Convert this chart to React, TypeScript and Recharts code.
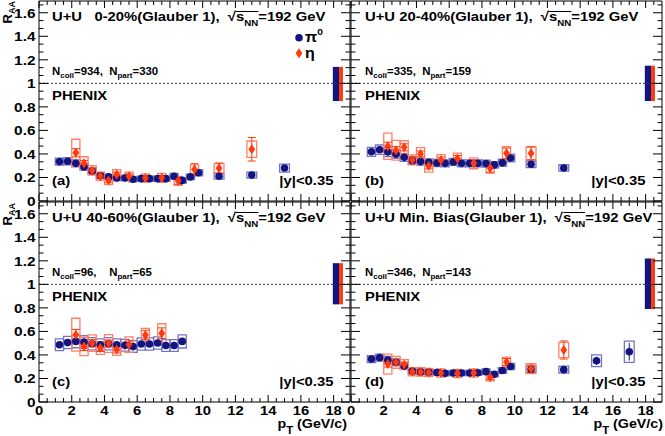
import React from "react";
import {
  ScatterChart,
  Scatter,
  XAxis,
  YAxis,
  ErrorBar,
  ReferenceArea,
  ReferenceLine,
} from "recharts";

const FONT = '"Liberation Sans", Arial, Helvetica, sans-serif';
const SX = 1.14; // the reference is stretched horizontally
const BLUE = "#14147f";
const RED = "#ff3a0e";
const BLUE_BOX = "#7474c6";
const RED_BOX = "#ff8266";

const X_MAX = 19;
const Y_MAX = 1.7;
const X_LABELS = [0, 2, 4, 6, 8, 10, 12, 14, 16, 18];
const Y_LABELS = ["0", "0.2", "0.4", "0.6", "0.8", "1", "1.2", "1.4", "1.6"];
const X_TICKS = Array.from({ length: 38 }, (_, i) => i * 0.5);
const Y_TICKS = Array.from({ length: 26 }, (_, i) => (i * 0.2) / 3);

// pT bins
const PI0_PT = [1.25, 1.75, 2.25, 2.75, 3.25, 3.75, 4.25, 4.75, 5.25, 5.75, 6.25, 6.75, 7.25, 7.75, 8.25, 8.75, 9.25, 9.75, 11, 13, 15, 17];
const ETA_PT = [2.25, 2.75, 3.25, 3.75, 4.25, 4.75, 5.5, 6.5, 7.5, 8.5, 9.5, 11, 13];

// (a) 0-20%
const A_PI0_R = [0.335, 0.338, 0.32, 0.29, 0.255, 0.215, 0.205, 0.195, 0.195, 0.185, 0.19, 0.19, 0.19, 0.19, 0.21, 0.175, 0.205, 0.24, 0.21, 0.22, 0.28];
const A_PI0_STAT = [0.006, 0.006, 0.006, 0.006, 0.005, 0.005, 0.005, 0.005, 0.005, 0.005, 0.005, 0.006, 0.006, 0.007, 0.008, 0.009, 0.01, 0.012, 0.012, 0.015, 0.025];
const A_PI0_SYS = [0.03, 0.03, 0.03, 0.028, 0.025, 0.022, 0.022, 0.022, 0.022, 0.022, 0.022, 0.022, 0.022, 0.022, 0.024, 0.022, 0.024, 0.027, 0.024, 0.026, 0.034];
const A_ETA_R = [0.41, 0.32, 0.26, 0.21, 0.175, 0.225, 0.21, 0.195, 0.197, 0.172, 0.267, 0.278, 0.44];
const A_ETA_STAT = [0.035, 0.025, 0.02, 0.02, 0.02, 0.02, 0.02, 0.02, 0.02, 0.03, 0.05, 0.045, 0.1];
const A_ETA_SYS = [0.115, 0.056, 0.04, 0.035, 0.035, 0.042, 0.035, 0.035, 0.038, 0.038, 0.04, 0.04, 0.07];

// (b) 20-40%
const B_PI0_R = [0.418, 0.436, 0.416, 0.398, 0.371, 0.343, 0.335, 0.328, 0.323, 0.32, 0.332, 0.32, 0.32, 0.32, 0.318, 0.307, 0.325, 0.365, 0.312, 0.281];
const B_PI0_STAT = [0.006, 0.006, 0.006, 0.006, 0.006, 0.005, 0.005, 0.005, 0.005, 0.005, 0.006, 0.006, 0.006, 0.007, 0.008, 0.009, 0.01, 0.012, 0.012, 0.015];
const B_PI0_SYS = [0.038, 0.04, 0.038, 0.036, 0.034, 0.031, 0.03, 0.03, 0.03, 0.03, 0.03, 0.03, 0.03, 0.03, 0.03, 0.028, 0.03, 0.033, 0.028, 0.027];
const B_ETA_R = [0.465, 0.432, 0.456, 0.349, 0.4, 0.298, 0.348, 0.362, 0.32, 0.28, 0.405, 0.405];
const B_ETA_STAT = [0.035, 0.03, 0.03, 0.025, 0.025, 0.025, 0.025, 0.025, 0.025, 0.035, 0.045, 0.055];
const B_ETA_SYS = [0.112, 0.084, 0.056, 0.042, 0.053, 0.052, 0.046, 0.045, 0.046, 0.042, 0.056, 0.056];

// (c) 40-60%
const C_PI0_R = [0.487, 0.505, 0.515, 0.51, 0.495, 0.487, 0.495, 0.487, 0.483, 0.472, 0.493, 0.493, 0.502, 0.48, 0.48, 0.515];
const C_PI0_STAT = [0.008, 0.008, 0.008, 0.008, 0.008, 0.008, 0.008, 0.009, 0.009, 0.01, 0.011, 0.012, 0.014, 0.016, 0.02, 0.03];
const C_PI0_SYS = [0.05, 0.052, 0.054, 0.053, 0.052, 0.05, 0.052, 0.05, 0.05, 0.05, 0.052, 0.052, 0.052, 0.05, 0.05, 0.056];
const C_ETA_R = [0.572, 0.472, 0.5, 0.459, 0.497, 0.447, 0.488, 0.57, 0.585];
const C_ETA_STAT = [0.045, 0.035, 0.03, 0.03, 0.03, 0.03, 0.03, 0.04, 0.045];
const C_ETA_SYS = [0.14, 0.078, 0.07, 0.055, 0.075, 0.05, 0.065, 0.055, 0.08];

// (d) Min. Bias
const D_PI0_R = [0.365, 0.377, 0.357, 0.338, 0.305, 0.262, 0.256, 0.252, 0.25, 0.245, 0.247, 0.246, 0.247, 0.248, 0.258, 0.236, 0.268, 0.302, 0.278, 0.275, 0.35, 0.427];
const D_PI0_STAT = [0.005, 0.005, 0.005, 0.005, 0.005, 0.004, 0.004, 0.004, 0.004, 0.004, 0.004, 0.005, 0.005, 0.006, 0.006, 0.007, 0.008, 0.009, 0.01, 0.012, 0.035, 0.075];
const D_PI0_SYS = [0.03, 0.03, 0.03, 0.028, 0.026, 0.023, 0.022, 0.022, 0.022, 0.022, 0.022, 0.022, 0.022, 0.022, 0.023, 0.022, 0.024, 0.026, 0.025, 0.03, 0.05, 0.09];
const D_ETA_R = [0.322, 0.337, 0.318, 0.258, 0.256, 0.25, 0.247, 0.242, 0.247, 0.21, 0.34, 0.283, 0.442];
const D_ETA_STAT = [0.025, 0.02, 0.02, 0.015, 0.015, 0.015, 0.015, 0.015, 0.015, 0.02, 0.03, 0.03, 0.077];
const D_ETA_SYS = [0.085, 0.05, 0.042, 0.035, 0.035, 0.035, 0.035, 0.035, 0.035, 0.03, 0.042, 0.042, 0.064];

// normalisation boxes at R=1
const NORM_LO = [0.85, 0.85, 0.83, 0.79];
const NORM_HI = [1.14, 1.15, 1.18, 1.22];

const TITLES = ["U+U   0-20%(Glauber 1),  ", "U+U 20-40%(Glauber 1),  ", "U+U 40-60%(Glauber 1),  ", "U+U Min. Bias(Glauber 1),  "];
const NCOLL = [934, 335, 96, 346];
const NPART = [330, 159, 65, 143];
const NGAP = ["  ", "  ", "    ", "  "];
const TAGS = ["(a)", "(b)", "(c)", "(d)"];

const PANEL_PI0 = [
  [A_PI0_R, A_PI0_STAT, A_PI0_SYS],
  [B_PI0_R, B_PI0_STAT, B_PI0_SYS],
  [C_PI0_R, C_PI0_STAT, C_PI0_SYS],
  [D_PI0_R, D_PI0_STAT, D_PI0_SYS],
];
const PANEL_ETA = [
  [A_ETA_R, A_ETA_STAT, A_ETA_SYS],
  [B_ETA_R, B_ETA_STAT, B_ETA_SYS],
  [C_ETA_R, C_ETA_STAT, C_ETA_SYS],
  [D_ETA_R, D_ETA_STAT, D_ETA_SYS],
];

const PW = 311;
const PH = 200;

const makeXTick = (showLabel: boolean) => (p: any) => {
  const v = p.payload.value;
  const major = Math.abs(v / 2 - Math.round(v / 2)) < 1e-6;
  const len = major ? 7 : 4;
  const { x, y } = p;
  return (
    <g>
      <line x1={x} x2={x} y1={y} y2={y - len} stroke="#000" />
      <line x1={x} x2={x} y1={y - PH} y2={y - PH + len} stroke="#000" />
      {showLabel && major && (
        <text
          transform={`translate(${x},${y + 13}) scale(${SX},1)`}
          textAnchor="middle"
          fontSize={13}
          fontWeight="bold"
          fontFamily={FONT}
          fill="#000"
        >
          {X_LABELS[Math.round(v / 2)]}
        </text>
      )}
    </g>
  );
};

const makeYTick = (showLabel: boolean) => (p: any) => {
  const k = Math.round((p.payload.value * 3) / 0.2);
  const major = k % 3 === 0;
  const len = major ? 9 : 4.5;
  const { x, y } = p;
  return (
    <g>
      <line x1={x} x2={x + len} y1={y} y2={y} stroke="#000" />
      <line x1={x + PW} x2={x + PW - len} y1={y} y2={y} stroke="#000" />
      {showLabel && major && (
        <text
          transform={`translate(${x - 3.5},${y}) scale(${SX},1)`}
          textAnchor="end"
          dy="0.36em"
          fontSize={13.5}
          fontWeight="bold"
          fontFamily={FONT}
          fill="#000"
        >
          {Y_LABELS[k / 3]}
        </text>
      )}
    </g>
  );
};

const Dot = (p: any) => <circle cx={p.cx} cy={p.cy} r={3.8} fill={BLUE} />;
const Diamond = (p: any) => (
  <polygon
    points={`${p.cx},${p.cy - 5} ${p.cx + 3.4},${p.cy} ${p.cx},${p.cy + 5} ${p.cx - 3.4},${p.cy}`}
    fill={RED}
  />
);

function Panel({ i }: { i: number }) {
  const isLeft = i % 2 === 0;
  const isTop = i < 2;
  const [pr, ps, pe] = PANEL_PI0[i];
  const [er, es, ee] = PANEL_ETA[i];
  const pi0 = pr.map((r, k) => ({ pt: PI0_PT[k], r, stat: ps[k], sys: pe[k] }));
  const eta = er.map((r, k) => ({ pt: ETA_PT[k], r, stat: es[k], sys: ee[k] }));
  const hw = (pt: number) => (pt >= 10 ? 0.3 : 0.25);

  return (
    <div style={{ position: "absolute", left: isLeft ? 0 : 340, top: isTop ? 0 : 190 }}>
      <ScatterChart
        width={isLeft ? 352 : 325}
        height={isTop ? 210 : 246}
        margin={{ left: isLeft ? 38 : 10, right: isLeft ? 2 : 3, top: isTop ? 1 : 12, bottom: isTop ? 8 : 33 }}
      >
        <XAxis
          type="number"
          dataKey="pt"
          domain={[0, X_MAX]}
          ticks={X_TICKS}
          interval={0}
          tickSize={0}
          tickMargin={0}
          tickLine={false}
          height={1}
          axisLine={{ stroke: "#000" }}
          tick={makeXTick(!isTop)}
          allowDataOverflow
        />
        <YAxis
          type="number"
          dataKey="r"
          domain={[0, Y_MAX]}
          ticks={Y_TICKS}
          interval={0}
          tickSize={0}
          tickMargin={0}
          tickLine={false}
          width={1}
          axisLine={{ stroke: "#000" }}
          tick={makeYTick(isLeft)}
          allowDataOverflow
        />
        <ReferenceLine x={X_MAX} stroke="#000" ifOverflow="visible" />
        <ReferenceLine y={Y_MAX} stroke="#000" ifOverflow="visible" />
        <ReferenceLine y={1} stroke="#333" strokeDasharray="2 2" />
        {pi0.map((d) => (
          <ReferenceArea
            key={`pb${d.pt}`}
            x1={d.pt - hw(d.pt)}
            x2={d.pt + hw(d.pt)}
            y1={d.r - d.sys}
            y2={d.r + d.sys}
            fill="none"
            stroke={BLUE_BOX}
            strokeWidth={1.3}
          />
        ))}
        {eta.map((d) => (
          <ReferenceArea
            key={`eb${d.pt}`}
            x1={d.pt - hw(d.pt)}
            x2={d.pt + hw(d.pt)}
            y1={d.r - d.sys}
            y2={d.r + d.sys}
            fill="none"
            stroke={RED_BOX}
            strokeWidth={1.3}
          />
        ))}
        <ReferenceArea x1={17.95} x2={18.33} y1={NORM_LO[i]} y2={NORM_HI[i]} fill={BLUE} fillOpacity={1} stroke="none" />
        <ReferenceArea x1={18.33} x2={18.57} y1={NORM_LO[i]} y2={NORM_HI[i]} fill={RED} fillOpacity={1} stroke="none" />
        <Scatter data={pi0} fill={BLUE} shape={Dot} isAnimationActive={false}>
          <ErrorBar dataKey="stat" direction="y" width={0} stroke={BLUE} strokeWidth={1} />
        </Scatter>
        <Scatter data={eta} fill={RED} shape={Diamond} isAnimationActive={false}>
          <ErrorBar dataKey="stat" direction="y" width={4} stroke={RED} strokeWidth={1} />
        </Scatter>
      </ScatterChart>
    </div>
  );
}

function Txt({ x, y, size, anchor = "start", children }: any) {
  const style: React.CSSProperties = {
    position: "absolute",
    top: y - 0.8465 * size,
    fontSize: size,
    lineHeight: `${size}px`,
    fontWeight: 700,
    whiteSpace: "pre",
    color: "#000",
    transform: `scaleX(${SX})`,
    transformOrigin: anchor === "end" ? "right top" : "left top",
  };
  if (anchor === "end") style.right = 665 - x;
  else style.left = x;
  return <div style={style}>{children}</div>;
}

const Sub = ({ size, drop, children }: any) => (
  <span style={{ fontSize: size, verticalAlign: -drop, lineHeight: 0 }}>{children}</span>
);

function Labels({ i }: { i: number }) {
  const isLeft = i % 2 === 0;
  const dy = i < 2 ? 0 : 201;
  const lx = isLeft ? 52 : 365;
  const rx = isLeft ? 333 : 645;
  return (
    <>
      <Txt x={lx} y={21 + dy} size={13}>
        {TITLES[i]}√
        <span style={{ display: "inline-block", borderTop: "1px solid #000", lineHeight: "9px" }}>
          s<Sub size={8.5} drop={4.5}>NN</Sub>
        </span>
        =192 GeV
      </Txt>
      <Txt x={lx} y={75 + dy} size={10}>
        N<Sub size={7} drop={3}>coll</Sub>={NCOLL[i]},{NGAP[i]}N<Sub size={7} drop={3}>part</Sub>={NPART[i]}
      </Txt>
      <Txt x={lx} y={100 + dy} size={13}>PHENIX</Txt>
      <Txt x={lx} y={185 + dy} size={13}>{TAGS[i]}</Txt>
      <Txt x={rx} y={185 + dy} size={13} anchor="end">|y|&lt;0.35</Txt>
    </>
  );
}

export default function App() {
  return (
    <div
      style={{
        position: "absolute",
        left: 0,
        top: 0,
        width: 665,
        height: 436,
        background: "#fff",
        overflow: "hidden",
        fontFamily: FONT,
      }}
    >
      {[0, 1, 2, 3].map((i) => (
        <Panel key={i} i={i} />
      ))}
      {[0, 1, 2, 3].map((i) => (
        <Labels key={i} i={i} />
      ))}
      {/* legend */}
      <svg width={665} height={436} style={{ position: "absolute", left: 0, top: 0, pointerEvents: "none" }}>
        <circle cx={299} cy={37.7} r={3.8} fill={BLUE} />
        <polygon points="299,48.3 302.4,53.3 299,58.3 295.6,53.3" fill={RED} />
      </svg>
      <Txt x={305} y={41.5} size={14}>
        π<span style={{ fontSize: 9, verticalAlign: 7, lineHeight: 0 }}>0</span>
      </Txt>
      <Txt x={305} y={57.5} size={14}>η</Txt>
      {/* axis titles */}
      {[0, 202].map((dy) => (
        <div
          key={dy}
          style={{
            position: "absolute",
            left: 1,
            top: 61 + dy,
            width: 60,
            textAlign: "right",
            fontSize: 13,
            fontWeight: 700,
            lineHeight: "13px",
            whiteSpace: "pre",
            transform: "rotate(-90deg)",
            transformOrigin: "left top",
          }}
        >
          R<Sub size={9} drop={3}>AA</Sub>
        </div>
      ))}
      {[347, 663].map((x) => (
        <Txt key={x} x={x} y={429} size={12.5} anchor="end">
          p<Sub size={10} drop={5.5}>T</Sub> (GeV/c)
        </Txt>
      ))}
    </div>
  );
}
